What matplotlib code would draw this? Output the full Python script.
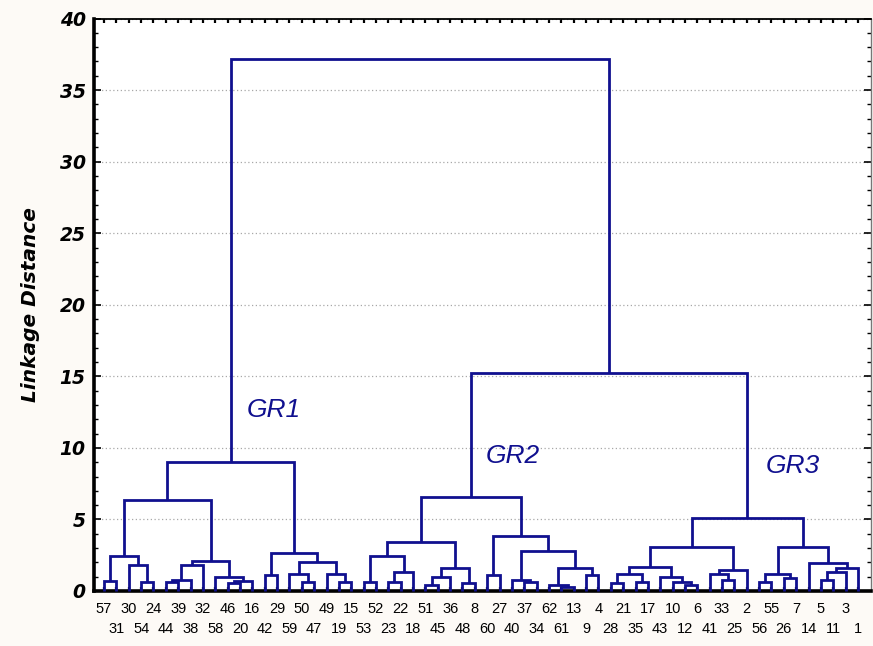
import matplotlib
matplotlib.use("Agg")
import matplotlib.pyplot as plt
from matplotlib.ticker import MultipleLocator

# ---------------- data ----------------
leaf_labels = [57, 31, 30, 54, 24, 44, 39, 38, 32, 58, 46, 20, 16, 42, 29, 59, 50, 47, 49, 19, 15,
               53, 52, 23, 22, 18, 51, 45, 36, 48, 8, 60, 27, 40, 37, 34, 62, 61, 13, 9, 4,
               28, 21, 35, 17, 43, 10, 12, 6, 41, 33, 25, 2, 56, 55, 26, 7, 14, 5, 11, 3, 1]

# each merge joins two children: a leaf label (< 100) or an earlier merge (100 + merge index)
merge_left = [57, 54, 30, 100, 44, 104, 105, 46, 107, 58, 106, 103, 42, 50, 59, 19, 49, 114, 112, 111,
              53, 23, 121, 120, 51, 124, 48, 125, 123, 60, 37, 40, 61, 62, 9, 133, 131, 129, 128,
              28, 35, 139, 12, 10, 43, 141, 33, 41, 147, 145, 56, 26, 150, 5, 153, 154, 14, 152, 149,
              138, 119]
merge_right = [31, 24, 101, 102, 39, 38, 32, 20, 16, 108, 109, 110, 29, 47, 113, 15, 115, 116, 117, 118,
               52, 22, 18, 122, 45, 36, 8, 126, 127, 27, 34, 130, 13, 132, 4, 134, 135, 136, 137,
               21, 17, 140, 6, 142, 143, 144, 25, 146, 2, 148, 55, 7, 151, 11, 3, 1, 155, 156, 157,
               158, 159]
merge_height = [0.7, 0.65, 1.8, 2.45, 0.6, 0.8, 1.8, 0.55, 0.7, 1.0, 2.1, 6.35, 1.15, 0.6, 1.2, 0.6, 1.2, 2.0, 2.65, 9.0,
                0.6, 0.6, 1.3, 2.45, 0.4, 1.0, 0.55, 1.6, 3.4, 1.1, 0.6, 0.8, 0.3, 0.45, 1.1, 1.6, 2.8, 3.85, 6.6,
                0.55, 0.6, 1.2, 0.45, 0.6, 1.0, 1.65, 0.75, 1.2, 1.45, 3.05, 0.6, 0.9, 1.2, 0.75, 1.3, 1.6, 1.95, 3.05, 5.1,
                15.2, 37.2]

group_names = ["GR1", "GR2", "GR3"]
group_x = [13.7, 33.1, 55.7]
group_y = [12.65, 9.43, 8.74]

y_ticks = [0, 5, 10, 15, 20, 25, 30, 35, 40]
y_label = "Linkage Distance"

# ---------------- style ----------------
LINE = "#10108f"
BG = "#fdfaf6"

fig = plt.figure(figsize=(8.73, 6.46), dpi=100, facecolor=BG)
ax = fig.add_axes([94 / 873, (646 - 591) / 646, (871 - 94) / 873, (591 - 18.5) / 646])
ax.set_facecolor("white")

pos = {lab: float(i) for i, lab in enumerate(leaf_labels)}
hgt = {lab: 0.0 for lab in leaf_labels}
for k, (a, b, h) in enumerate(zip(merge_left, merge_right, merge_height)):
    xa, xb = pos[a], pos[b]
    ax.plot([xa, xa, xb, xb], [hgt[a], h, h, hgt[b]], color=LINE, lw=2.0,
            solid_joinstyle="miter", solid_capstyle="butt", zorder=3, clip_on=False)
    pos[100 + k] = (xa + xb) / 2
    hgt[100 + k] = h

for name, gx, gy in zip(group_names, group_x, group_y):
    ax.text(gx, gy, name, color=LINE, fontsize=19, fontstyle="italic",
            family="Liberation Sans", ha="center", va="center", zorder=4)

ax.set_xlim(-0.81, 62.05)
ax.set_ylim(0, 40)

ax.set_yticks(y_ticks)
ax.set_yticklabels([str(t) for t in y_ticks], fontsize=13.5, fontweight="bold",
                   fontstyle="italic", family="DejaVu Sans")
ax.yaxis.set_minor_locator(MultipleLocator(1))
ax.tick_params(axis="y", which="major", direction="in", length=5, width=1.2,
               left=True, right=True, pad=6, colors="black")
ax.tick_params(axis="y", which="minor", direction="in", length=3, width=1.0,
               left=True, right=True)

# leaf labels in two staggered rows: even positions on top row, odd on bottom row
even_idx = list(range(0, len(leaf_labels), 2))
odd_idx = list(range(1, len(leaf_labels), 2))
ax.set_xticks(even_idx)
ax.set_xticklabels([str(leaf_labels[i]) for i in even_idx], fontsize=10.5, family="Liberation Sans")
ax.set_xticks(odd_idx, minor=True)
ax.set_xticklabels([str(leaf_labels[i]) for i in odd_idx], minor=True, fontsize=10.5,
                   family="Liberation Sans")
ax.tick_params(axis="x", which="major", direction="in", length=3, width=1.6,
               bottom=True, top=True, pad=8)
ax.tick_params(axis="x", which="minor", direction="in", length=3, width=1.6,
               bottom=True, top=True, pad=22)

ax.yaxis.grid(True, which="major", linestyle=(0, (1, 2)), color="#a8a8a8", lw=0.9, zorder=0)
ax.set_axisbelow(True)

for side, lw in (("left", 2.6), ("bottom", 2.6), ("top", 1.3), ("right", 1.0)):
    ax.spines[side].set_linewidth(lw)
    ax.spines[side].set_color("black")
ax.spines["right"].set_color("#777777")

ax.set_ylabel(y_label, fontsize=14.5, fontweight="bold", fontstyle="italic", family="DejaVu Sans")
ax.yaxis.set_label_coords(-0.07, 0.5)

fig.savefig("out.png", dpi=100, facecolor=BG)
